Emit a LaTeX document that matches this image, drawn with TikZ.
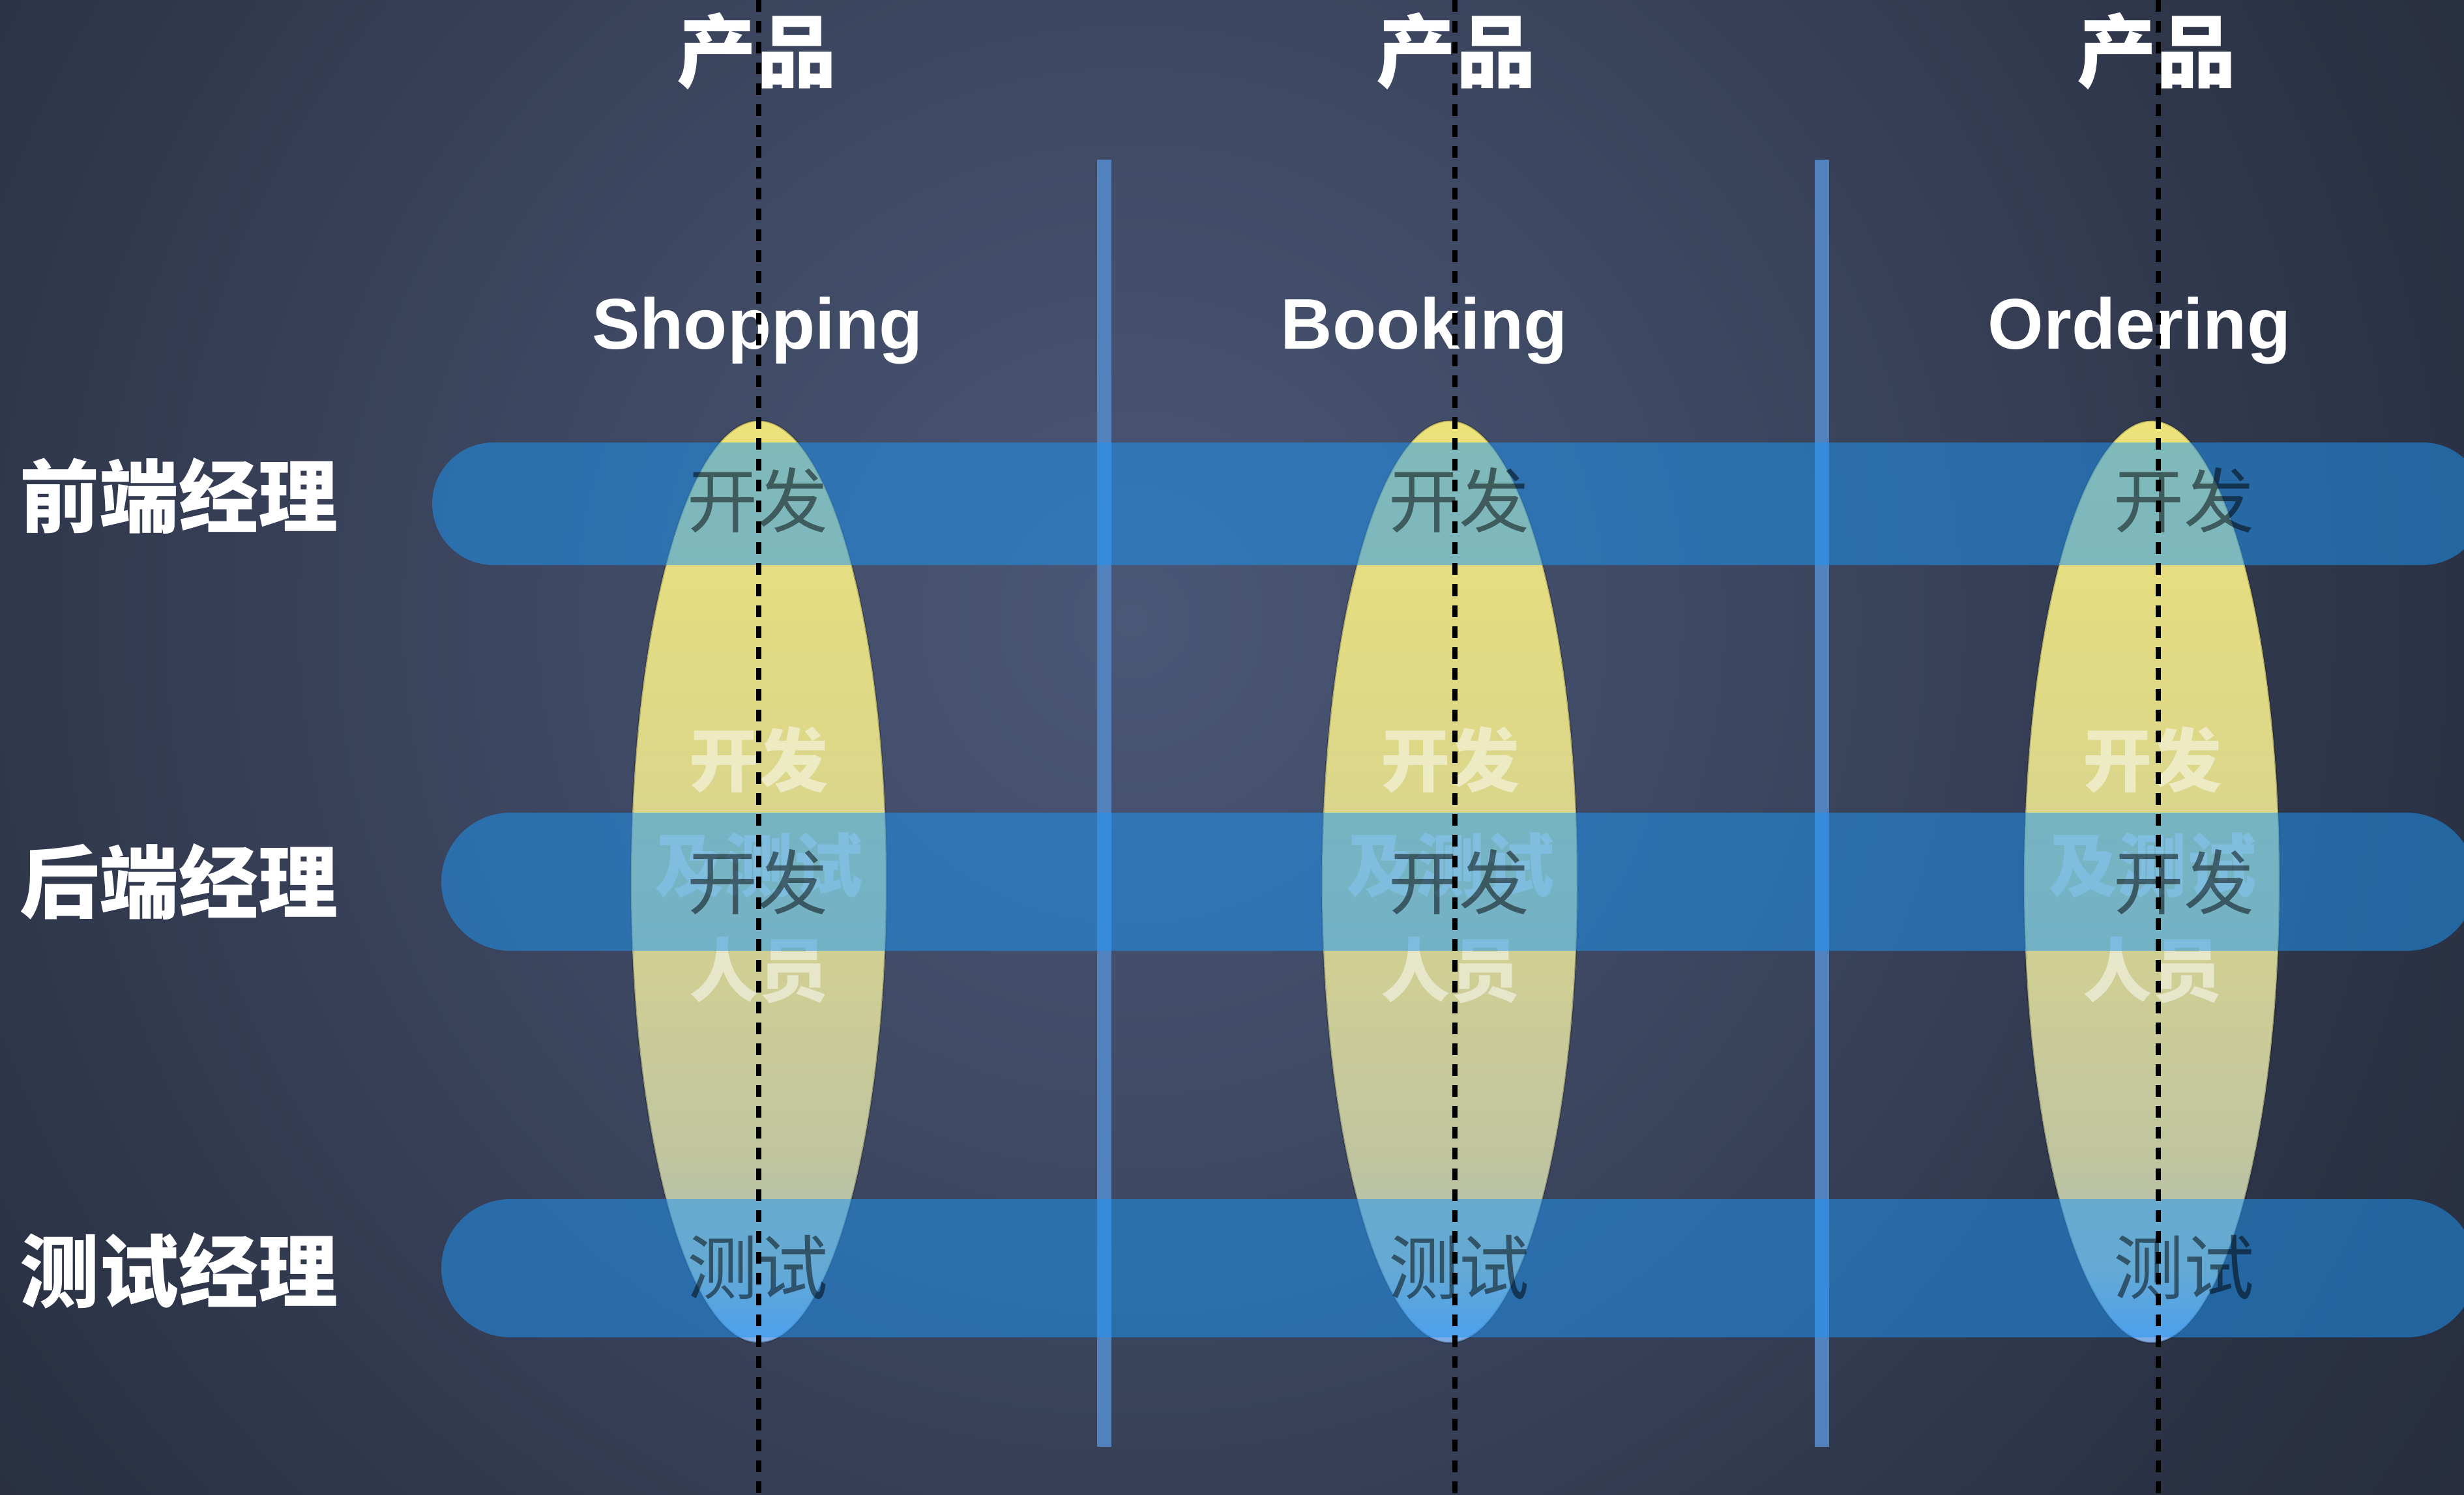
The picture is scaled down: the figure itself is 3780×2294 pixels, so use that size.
\documentclass[tikz,border=0pt]{standalone}
\usepackage{fontspec}
\setmainfont{Liberation Sans}
\newfontfamily\cjk{Noto Sans CJK SC}
\definecolor{bgin}{RGB}{74,87,118}
\definecolor{bgmid}{RGB}{61,71,97}
\definecolor{bgmid2}{RGB}{44,51,70}
\definecolor{bgout}{RGB}{37,43,59}
\definecolor{bandc}{RGB}{30,150,245}
\definecolor{sepc}{RGB}{82,130,190}
\definecolor{ez0}{RGB}{237,226,122}
\definecolor{ez5}{RGB}{214,211,142}
\definecolor{ez8}{RGB}{192,197,160}
\definecolor{ez9}{RGB}{178,192,178}
\definecolor{ezb}{RGB}{125,170,232}
\pgfdeclareradialshading{bgrad}{\pgfpoint{0bp}{0bp}}{color(0bp)=(bgin); color(9bp)=(bgmid); color(19bp)=(bgmid2); color(25bp)=(bgout); color(50bp)=(bgout)}
\pgfdeclareverticalshading{ellgrad}{100bp}{color(0bp)=(ezb); color(25bp)=(ezb); color(29bp)=(ez9); color(35bp)=(ez8); color(50bp)=(ez5); color(75bp)=(ez0); color(100bp)=(ez0)}
\begin{document}
\begin{tikzpicture}[x=0.01cm,y=-0.01cm,
  sepbar/.style={fill=sepc},
  ellshape/.style={shading=ellgrad, draw=black, draw opacity=0.22, line width=0.8pt},
  lighttxt/.style={inner sep=0pt, align=center, text=white, text opacity=0.5,
    font=\cjk\bfseries\fontsize{30.2pt}{45.8pt}\selectfont},
  bandfill/.style={fill=bandc, fill opacity=0.52},
  darktxt/.style={inner sep=0pt, text=black, text opacity=0.5,
    font=\cjk\fontsize{30.7pt}{36pt}\selectfont},
  headcjk/.style={inner sep=0pt, text=white, font=\cjk\bfseries\fontsize{34.7pt}{40pt}\selectfont},
  headen/.style={inner sep=0pt, text=white, anchor=base, font=\bfseries\fontsize{31.3pt}{36pt}\selectfont},
  rowlabel/.style={inner sep=0pt, text=white, anchor=west, font=\cjk\bfseries\fontsize{34.7pt}{40pt}\selectfont},
  dashline/.style={draw=black, line width=0.08cm, dash pattern=on 0.18cm off 0.14cm}]
\useasboundingbox (0,0) rectangle (3780,2294);
% background
\begin{scope}
  \clip (0,0) rectangle (3780,2294);
  \shade[shading=bgrad] (1735,950) circle [radius=26cm];
\end{scope}
% separators
\fill[sepbar] (1683,245) rectangle (1705,2220);
\fill[sepbar] (2784,245) rectangle (2806,2220);
% ellipses
\shadedraw[ellshape] (1164,1353) ellipse [x radius=1.96cm, y radius=7.07cm];
\shadedraw[ellshape] (2224,1353) ellipse [x radius=1.96cm, y radius=7.07cm];
\shadedraw[ellshape] (3301,1353) ellipse [x radius=1.96cm, y radius=7.07cm];
\node[lighttxt] (e1) at (1164,1327) {开发\\及测试\\人员};
\node[lighttxt] (e2) at (2225,1327) {开发\\及测试\\人员};
\node[lighttxt] (e3) at (3302,1327) {开发\\及测试\\人员};
% bands
\fill[bandfill, rounded corners=0.94cm] (663,679) rectangle (3811,867);
\fill[bandfill, rounded corners=1.06cm] (677,1247) rectangle (3798,1459);
\fill[bandfill, rounded corners=1.06cm] (677,1840) rectangle (3798,2052);
% dark texts
\node[darktxt] (d11) at (1162,767) {开发};
\node[darktxt] (d12) at (2238,767) {开发};
\node[darktxt] (d13) at (3350,767) {开发};
\node[darktxt] (d21) at (1162,1353) {开发};
\node[darktxt] (d22) at (2238,1353) {开发};
\node[darktxt] (d23) at (3350,1353) {开发};
\node[darktxt] (d31) at (1162,1945) {测试};
\node[darktxt] (d32) at (2238,1945) {测试};
\node[darktxt] (d33) at (3350,1945) {测试};
% headers
\node[headcjk] (p1) at (1161,79) {产品};
\node[headcjk] (p2) at (2234,79) {产品};
\node[headcjk] (p3) at (3308,79) {产品};
\node[headen] (n1) at (1162,535) {Shopping};
\node[headen] (n2) at (2185,535) {Booking};
\node[headen] (n3) at (3282,535) {Ordering};
% row labels
\node[rowlabel] (r1) at (30,761) {前端经理};
\node[rowlabel] (r2) at (30,1353) {后端经理};
\node[rowlabel] (r3) at (30,1950) {测试经理};
% dashed lines
\coordinate (t1) at (1164,0); \coordinate (b1) at (1164,2294);
\coordinate (t2) at (2232,0); \coordinate (b2) at (2232,2294);
\coordinate (t3) at (3311,0); \coordinate (b3) at (3311,2294);
\draw[dashline] (t1) -- (b1);
\draw[dashline] (t2) -- (b2);
\draw[dashline] (t3) -- (b3);
\end{tikzpicture}
\end{document}
